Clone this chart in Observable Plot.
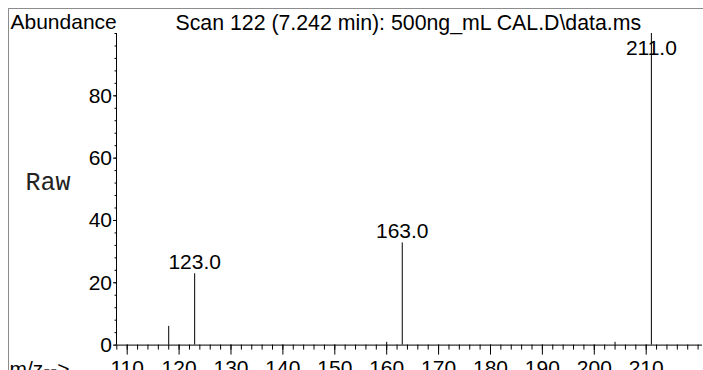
<!DOCTYPE html>
<html><head><meta charset="utf-8">
<script src="https://cdn.jsdelivr.net/npm/d3@7"></script>
<script src="https://cdn.jsdelivr.net/npm/@observablehq/plot@0.6"></script>
<style>
html,body{margin:0;padding:0;background:#fff;}
#wrap{position:relative;width:703px;height:370px;overflow:hidden;}
#border{position:absolute;left:8px;top:8px;right:-2px;bottom:-2px;border-left:1px solid #8c8c8c;border-top:1px solid #8c8c8c;pointer-events:none;}
</style></head><body>
<div id="wrap"><div id="border"></div></div>
<script>
// Spectrum data (m/z vs relative abundance)
const mz = [118, 123, 160, 163, 204, 211];
const abundance = [6.0, 22.9, 0.9, 32.8, 0.9, 100];
// labelled peaks
const labelMz = [123, 163];
const labelAb = [22.9, 32.8];
const labelText = ["123.0", "163.0"];
const baseMz = [211];
const baseAb = [100];
const baseText = ["211.0"];
// axes
const xDomain = [107.94, 220.85];
const yDomain = [0, 100];
const xTicks = [110, 120, 130, 140, 150, 160, 170, 180, 190, 200, 210];
const xMinor = [108,110,112,114,116,118,120,122,124,126,128,130,132,134,136,138,140,142,144,146,148,150,152,154,156,158,160,162,164,166,168,170,172,174,176,178,180,182,184,186,188,190,192,194,196,198,200,202,204,206,208,210,212,214,216,218,220];
const yTicks = [0, 20, 40, 60, 80];
const yMinor = [0,4,8,12,16,20,24,28,32,36,40,44,48,52,56,60,64,68,72,76,80,84,88,92,96,100];
const title = "Scan 122 (7.242 min): 500ng_mL CAL.D\\data.ms";
const yName = "Abundance";
const rawText = "Raw";
const xName = "m/z-->";

const peaks = mz.map((m, i) => ({mz: m, ab: abundance[i]}));
const labels = labelMz.map((m, i) => ({mz: m, ab: labelAb[i], t: labelText[i]}));
const baseLabels = baseMz.map((m, i) => ({mz: m, ab: baseAb[i], t: baseText[i]}));

const sans = "'Liberation Sans', Arial, Helvetica, sans-serif";
const chart = Plot.plot({
  width: 703, height: 370,
  marginLeft: 116, marginRight: 1, marginTop: 33, marginBottom: 25.4,
  style: {fontFamily: sans, fontSize: "21px", color: "#000", background: "transparent", overflow: "visible"},
  x: {domain: xDomain, label: null},
  y: {domain: yDomain, label: null},
  marks: [
    Plot.axisY({ticks: yMinor, tickSize: 1.5, fill: "none", label: null}),
    Plot.axisY({ticks: yTicks, tickSize: 3, tickPadding: 1.5, fontSize: 21, label: null}),
    Plot.axisX({ticks: xMinor, tickSize: 5, fill: "none", label: null}),
    Plot.axisX({ticks: xTicks, tickSize: 10, tickPadding: 5.4, fontSize: 21, label: null}),
    Plot.ruleX([xDomain[0]], {stroke: "#000"}),
    Plot.ruleY([0], {stroke: "#000"}),
    Plot.ruleX(peaks, {x: "mz", y: "ab", stroke: "#000", strokeWidth: 1}),
    Plot.text(labels, {x: "mz", y: "ab", text: "t", lineAnchor: "top", dy: -20, fontSize: 21, fill: "#000"}),
    Plot.text(baseLabels, {x: "mz", y: "ab", text: "t", lineAnchor: "top", dy: 7, fontSize: 21, fill: "#000"}),
    Plot.text([yName], {frameAnchor: "top-left", dx: -106, dy: -19, textAnchor: "start", lineAnchor: "top", fontSize: 21, fill: "#000"}),
    Plot.text([title], {frameAnchor: "top-left", dx: 59, dy: -19, textAnchor: "start", lineAnchor: "top", fontSize: 21.3, fill: "#000"}),
    Plot.text([rawText], {frameAnchor: "top-left", dx: -91, dy: 138.5, textAnchor: "start", lineAnchor: "top", fontSize: 25, fontFamily: "'Courier New', 'Liberation Mono', monospace", fill: "#222"}),
    Plot.text([xName], {frameAnchor: "top-left", dx: -107, dy: 328, textAnchor: "start", lineAnchor: "top", fontSize: 21, fill: "#000"})
  ]
});
document.getElementById("wrap").appendChild(chart);
</script>
</body></html>
